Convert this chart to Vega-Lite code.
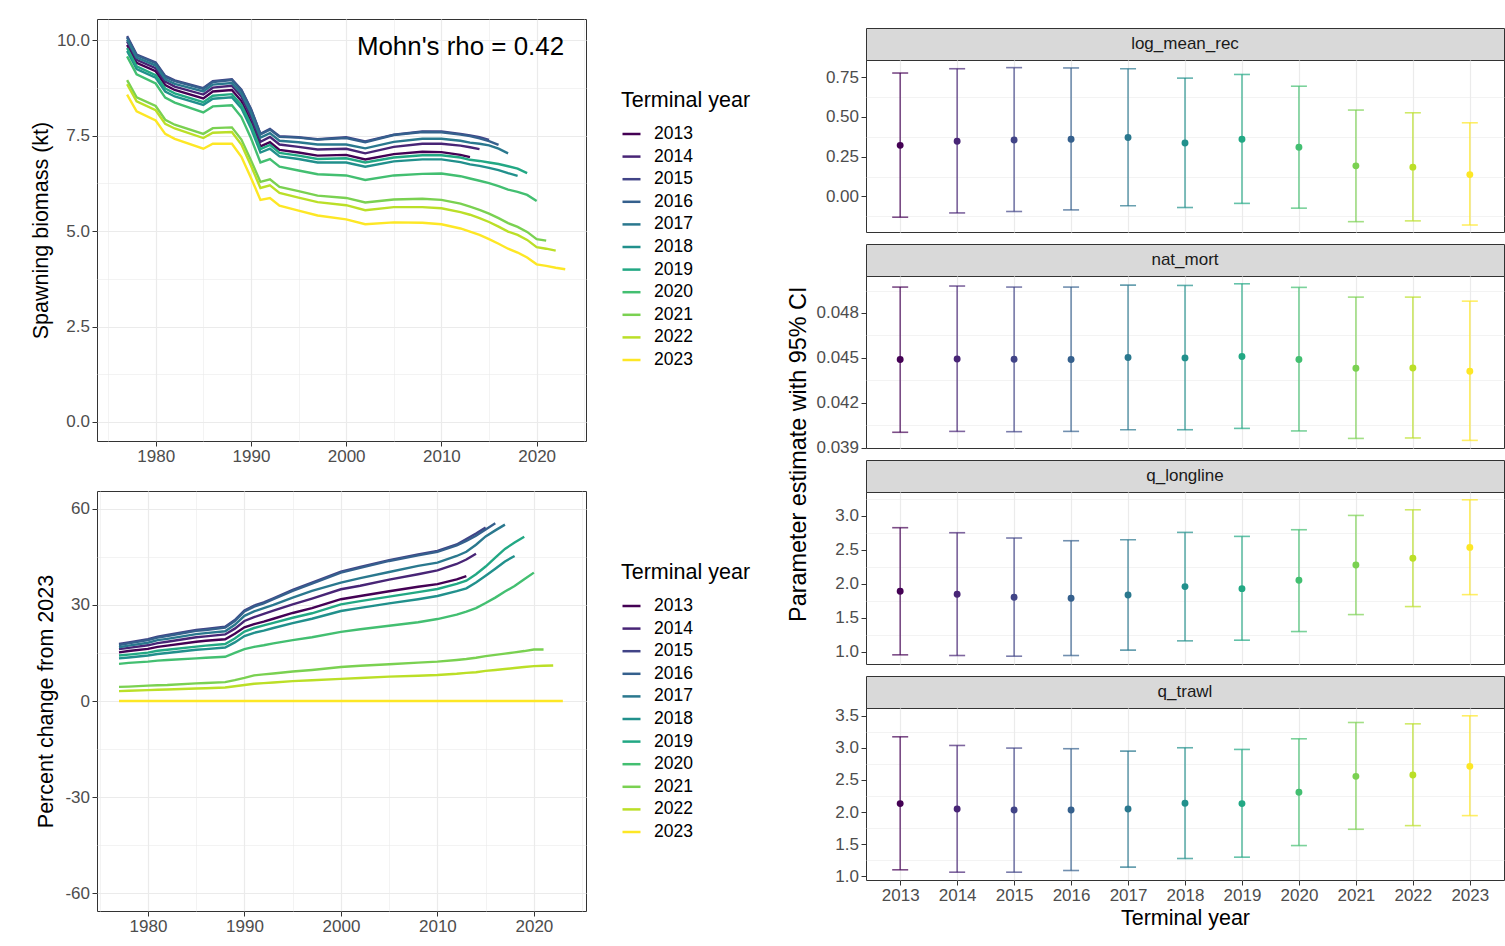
{
  "$schema": "https://vega.github.io/schema/vega-lite/v6.json",
  "background": "white",
  "padding": {"left": 29, "top": 18, "right": 0, "bottom": 0},
  "config": {
    "font": "Liberation Sans",
    "view": {"stroke": "#333333", "strokeWidth": 1},
    "axis": {"domain": false, "tickColor": "#333333", "tickSize": 5, "tickWidth": 1, "labelColor": "#4D4D4D", "labelFontSize": 17, "labelFont": "Liberation Sans", "titleFont": "Liberation Sans", "titleFontSize": 21.5, "titleFontWeight": "normal", "titleColor": "#000000", "gridColor": "#EBEBEB", "labelPadding": 2.5, "labelFlush": false, "labelOverlap": false},
    "legend": {"labelFont": "Liberation Sans", "titleFont": "Liberation Sans"},
    "title": {"font": "Liberation Sans", "fontWeight": "normal", "color": "#000000"}
  },
  "datasets": {
    "sb": [
      {"ty":2013,"yr":1977,"sb":9.88,"pct":15.2},{"ty":2013,"yr":1978,"sb":9.41,"pct":15.6},{"ty":2013,"yr":1980,"sb":9.19,"pct":16.3},{"ty":2013,"yr":1981,"sb":8.83,"pct":16.9},{"ty":2013,"yr":1982,"sb":8.70,"pct":17.3},{"ty":2013,"yr":1985,"sb":8.48,"pct":18.5},{"ty":2013,"yr":1986,"sb":8.66,"pct":18.8},{"ty":2013,"yr":1988,"sb":8.70,"pct":19.3},{"ty":2013,"yr":1989,"sb":8.41,"pct":21.0},{"ty":2013,"yr":1990,"sb":7.87,"pct":23.0},{"ty":2013,"yr":1991,"sb":7.22,"pct":24.0},{"ty":2013,"yr":1992,"sb":7.33,"pct":24.8},{"ty":2013,"yr":1993,"sb":7.13,"pct":25.7},{"ty":2013,"yr":1995,"sb":7.06,"pct":27.5},{"ty":2013,"yr":1997,"sb":6.98,"pct":29.0},{"ty":2013,"yr":2000,"sb":7.00,"pct":31.8},{"ty":2013,"yr":2002,"sb":6.88,"pct":32.8},{"ty":2013,"yr":2005,"sb":7.02,"pct":34.3},{"ty":2013,"yr":2008,"sb":7.08,"pct":35.7},{"ty":2013,"yr":2010,"sb":7.07,"pct":36.5},{"ty":2013,"yr":2012,"sb":7.00,"pct":38.0},{"ty":2013,"yr":2013,"sb":6.94,"pct":39.0},
      {"ty":2014,"yr":1977,"sb":9.97,"pct":16.2},{"ty":2014,"yr":1978,"sb":9.49,"pct":16.6},{"ty":2014,"yr":1980,"sb":9.27,"pct":17.4},{"ty":2014,"yr":1981,"sb":8.92,"pct":18.1},{"ty":2014,"yr":1982,"sb":8.79,"pct":18.5},{"ty":2014,"yr":1985,"sb":8.58,"pct":19.9},{"ty":2014,"yr":1986,"sb":8.76,"pct":20.2},{"ty":2014,"yr":1988,"sb":8.81,"pct":20.8},{"ty":2014,"yr":1989,"sb":8.52,"pct":22.6},{"ty":2014,"yr":1990,"sb":8.00,"pct":25.0},{"ty":2014,"yr":1991,"sb":7.34,"pct":26.2},{"ty":2014,"yr":1992,"sb":7.47,"pct":27.2},{"ty":2014,"yr":1993,"sb":7.27,"pct":28.2},{"ty":2014,"yr":1995,"sb":7.21,"pct":30.2},{"ty":2014,"yr":1997,"sb":7.14,"pct":32.0},{"ty":2014,"yr":2000,"sb":7.16,"pct":34.9},{"ty":2014,"yr":2002,"sb":7.04,"pct":36.0},{"ty":2014,"yr":2005,"sb":7.21,"pct":37.9},{"ty":2014,"yr":2008,"sb":7.29,"pct":39.6},{"ty":2014,"yr":2010,"sb":7.29,"pct":40.8},{"ty":2014,"yr":2012,"sb":7.24,"pct":42.8},{"ty":2014,"yr":2013,"sb":7.20,"pct":44.2},{"ty":2014,"yr":2014,"sb":7.15,"pct":46.0},
      {"ty":2015,"yr":1977,"sb":10.11,"pct":17.8},{"ty":2015,"yr":1978,"sb":9.63,"pct":18.3},{"ty":2015,"yr":1980,"sb":9.42,"pct":19.3},{"ty":2015,"yr":1981,"sb":9.07,"pct":20.1},{"ty":2015,"yr":1982,"sb":8.95,"pct":20.6},{"ty":2015,"yr":1985,"sb":8.75,"pct":22.2},{"ty":2015,"yr":1986,"sb":8.93,"pct":22.5},{"ty":2015,"yr":1988,"sb":8.98,"pct":23.2},{"ty":2015,"yr":1989,"sb":8.71,"pct":25.3},{"ty":2015,"yr":1990,"sb":8.21,"pct":28.3},{"ty":2015,"yr":1991,"sb":7.55,"pct":29.8},{"ty":2015,"yr":1992,"sb":7.68,"pct":30.8},{"ty":2015,"yr":1993,"sb":7.49,"pct":32.1},{"ty":2015,"yr":1995,"sb":7.46,"pct":34.7},{"ty":2015,"yr":1997,"sb":7.41,"pct":37.0},{"ty":2015,"yr":2000,"sb":7.46,"pct":40.4},{"ty":2015,"yr":2002,"sb":7.35,"pct":41.9},{"ty":2015,"yr":2005,"sb":7.53,"pct":44.0},{"ty":2015,"yr":2008,"sb":7.61,"pct":45.8},{"ty":2015,"yr":2010,"sb":7.61,"pct":46.9},{"ty":2015,"yr":2012,"sb":7.55,"pct":48.9},{"ty":2015,"yr":2013,"sb":7.51,"pct":50.6},{"ty":2015,"yr":2014,"sb":7.46,"pct":52.3},{"ty":2015,"yr":2015,"sb":7.39,"pct":54.2},
      {"ty":2016,"yr":1977,"sb":10.08,"pct":17.5},{"ty":2016,"yr":1978,"sb":9.61,"pct":18.0},{"ty":2016,"yr":1980,"sb":9.40,"pct":19.0},{"ty":2016,"yr":1981,"sb":9.04,"pct":19.8},{"ty":2016,"yr":1982,"sb":8.93,"pct":20.3},{"ty":2016,"yr":1985,"sb":8.73,"pct":21.9},{"ty":2016,"yr":1986,"sb":8.91,"pct":22.2},{"ty":2016,"yr":1988,"sb":8.96,"pct":22.9},{"ty":2016,"yr":1989,"sb":8.69,"pct":25.0},{"ty":2016,"yr":1990,"sb":8.19,"pct":28.0},{"ty":2016,"yr":1991,"sb":7.54,"pct":29.5},{"ty":2016,"yr":1992,"sb":7.66,"pct":30.5},{"ty":2016,"yr":1993,"sb":7.47,"pct":31.8},{"ty":2016,"yr":1995,"sb":7.45,"pct":34.4},{"ty":2016,"yr":1997,"sb":7.40,"pct":36.7},{"ty":2016,"yr":2000,"sb":7.44,"pct":40.1},{"ty":2016,"yr":2002,"sb":7.33,"pct":41.6},{"ty":2016,"yr":2005,"sb":7.52,"pct":43.75},{"ty":2016,"yr":2008,"sb":7.60,"pct":45.5},{"ty":2016,"yr":2010,"sb":7.59,"pct":46.6},{"ty":2016,"yr":2012,"sb":7.53,"pct":48.6},{"ty":2016,"yr":2013,"sb":7.49,"pct":50.0},{"ty":2016,"yr":2014,"sb":7.43,"pct":51.6},{"ty":2016,"yr":2015,"sb":7.36,"pct":53.6},{"ty":2016,"yr":2016,"sb":7.26,"pct":55.5},
      {"ty":2017,"yr":1977,"sb":10.02,"pct":16.8},{"ty":2017,"yr":1978,"sb":9.55,"pct":17.3},{"ty":2017,"yr":1980,"sb":9.34,"pct":18.2},{"ty":2017,"yr":1981,"sb":8.98,"pct":19.0},{"ty":2017,"yr":1982,"sb":8.86,"pct":19.4},{"ty":2017,"yr":1985,"sb":8.66,"pct":20.9},{"ty":2017,"yr":1986,"sb":8.84,"pct":21.2},{"ty":2017,"yr":1988,"sb":8.88,"pct":21.8},{"ty":2017,"yr":1989,"sb":8.60,"pct":23.8},{"ty":2017,"yr":1990,"sb":8.10,"pct":26.6},{"ty":2017,"yr":1991,"sb":7.45,"pct":28.0},{"ty":2017,"yr":1992,"sb":7.57,"pct":29.0},{"ty":2017,"yr":1993,"sb":7.37,"pct":30.0},{"ty":2017,"yr":1995,"sb":7.33,"pct":32.3},{"ty":2017,"yr":1997,"sb":7.27,"pct":34.4},{"ty":2017,"yr":2000,"sb":7.27,"pct":37.0},{"ty":2017,"yr":2002,"sb":7.17,"pct":38.4},{"ty":2017,"yr":2005,"sb":7.34,"pct":40.3},{"ty":2017,"yr":2008,"sb":7.42,"pct":42.2},{"ty":2017,"yr":2010,"sb":7.42,"pct":43.2},{"ty":2017,"yr":2012,"sb":7.37,"pct":45.3},{"ty":2017,"yr":2013,"sb":7.32,"pct":46.6},{"ty":2017,"yr":2014,"sb":7.29,"pct":48.8},{"ty":2017,"yr":2015,"sb":7.25,"pct":51.4},{"ty":2017,"yr":2016,"sb":7.16,"pct":53.3},{"ty":2017,"yr":2017,"sb":7.04,"pct":55.1},
      {"ty":2018,"yr":1977,"sb":9.72,"pct":13.3},{"ty":2018,"yr":1978,"sb":9.25,"pct":13.6},{"ty":2018,"yr":1980,"sb":9.02,"pct":14.2},{"ty":2018,"yr":1981,"sb":8.66,"pct":14.7},{"ty":2018,"yr":1982,"sb":8.53,"pct":15.0},{"ty":2018,"yr":1985,"sb":8.31,"pct":16.0},{"ty":2018,"yr":1986,"sb":8.47,"pct":16.2},{"ty":2018,"yr":1988,"sb":8.51,"pct":16.7},{"ty":2018,"yr":1989,"sb":8.22,"pct":18.3},{"ty":2018,"yr":1990,"sb":7.70,"pct":20.3},{"ty":2018,"yr":1991,"sb":7.06,"pct":21.3},{"ty":2018,"yr":1992,"sb":7.16,"pct":22.0},{"ty":2018,"yr":1993,"sb":6.96,"pct":22.8},{"ty":2018,"yr":1995,"sb":6.89,"pct":24.3},{"ty":2018,"yr":1997,"sb":6.80,"pct":25.7},{"ty":2018,"yr":2000,"sb":6.80,"pct":28.1},{"ty":2018,"yr":2002,"sb":6.69,"pct":29.1},{"ty":2018,"yr":2005,"sb":6.83,"pct":30.5},{"ty":2018,"yr":2008,"sb":6.88,"pct":31.8},{"ty":2018,"yr":2010,"sb":6.88,"pct":32.8},{"ty":2018,"yr":2012,"sb":6.81,"pct":34.3},{"ty":2018,"yr":2013,"sb":6.75,"pct":35.2},{"ty":2018,"yr":2014,"sb":6.71,"pct":37.0},{"ty":2018,"yr":2015,"sb":6.66,"pct":39.1},{"ty":2018,"yr":2016,"sb":6.60,"pct":41.3},{"ty":2018,"yr":2017,"sb":6.52,"pct":43.6},{"ty":2018,"yr":2018,"sb":6.45,"pct":45.3},
      {"ty":2019,"yr":1977,"sb":9.80,"pct":14.2},{"ty":2019,"yr":1978,"sb":9.32,"pct":14.5},{"ty":2019,"yr":1980,"sb":9.09,"pct":15.1},{"ty":2019,"yr":1981,"sb":8.74,"pct":15.7},{"ty":2019,"yr":1982,"sb":8.61,"pct":16.0},{"ty":2019,"yr":1985,"sb":8.38,"pct":17.0},{"ty":2019,"yr":1986,"sb":8.55,"pct":17.3},{"ty":2019,"yr":1988,"sb":8.59,"pct":17.8},{"ty":2019,"yr":1989,"sb":8.31,"pct":19.5},{"ty":2019,"yr":1990,"sb":7.79,"pct":21.7},{"ty":2019,"yr":1991,"sb":7.15,"pct":22.8},{"ty":2019,"yr":1992,"sb":7.26,"pct":23.6},{"ty":2019,"yr":1993,"sb":7.05,"pct":24.4},{"ty":2019,"yr":1995,"sb":6.98,"pct":26.0},{"ty":2019,"yr":1997,"sb":6.89,"pct":27.4},{"ty":2019,"yr":2000,"sb":6.91,"pct":30.2},{"ty":2019,"yr":2002,"sb":6.80,"pct":31.2},{"ty":2019,"yr":2005,"sb":6.93,"pct":32.6},{"ty":2019,"yr":2008,"sb":6.99,"pct":34.0},{"ty":2019,"yr":2010,"sb":6.99,"pct":35.0},{"ty":2019,"yr":2012,"sb":6.93,"pct":36.6},{"ty":2019,"yr":2013,"sb":6.87,"pct":37.6},{"ty":2019,"yr":2014,"sb":6.84,"pct":39.6},{"ty":2019,"yr":2015,"sb":6.80,"pct":42.0},{"ty":2019,"yr":2016,"sb":6.76,"pct":44.8},{"ty":2019,"yr":2017,"sb":6.70,"pct":47.5},{"ty":2019,"yr":2018,"sb":6.64,"pct":49.5},{"ty":2019,"yr":2019,"sb":6.52,"pct":51.3},
      {"ty":2020,"yr":1977,"sb":9.58,"pct":11.6},{"ty":2020,"yr":1978,"sb":9.11,"pct":11.9},{"ty":2020,"yr":1980,"sb":8.87,"pct":12.3},{"ty":2020,"yr":1981,"sb":8.50,"pct":12.6},{"ty":2020,"yr":1982,"sb":8.37,"pct":12.8},{"ty":2020,"yr":1985,"sb":8.11,"pct":13.3},{"ty":2020,"yr":1986,"sb":8.27,"pct":13.5},{"ty":2020,"yr":1988,"sb":8.30,"pct":13.8},{"ty":2020,"yr":1989,"sb":7.99,"pct":15.0},{"ty":2020,"yr":1990,"sb":7.44,"pct":16.2},{"ty":2020,"yr":1991,"sb":6.80,"pct":16.9},{"ty":2020,"yr":1992,"sb":6.89,"pct":17.4},{"ty":2020,"yr":1993,"sb":6.69,"pct":18.0},{"ty":2020,"yr":1995,"sb":6.59,"pct":19.0},{"ty":2020,"yr":1997,"sb":6.49,"pct":19.9},{"ty":2020,"yr":2000,"sb":6.46,"pct":21.6},{"ty":2020,"yr":2002,"sb":6.34,"pct":22.4},{"ty":2020,"yr":2005,"sb":6.46,"pct":23.5},{"ty":2020,"yr":2008,"sb":6.50,"pct":24.6},{"ty":2020,"yr":2010,"sb":6.51,"pct":25.6},{"ty":2020,"yr":2012,"sb":6.44,"pct":27.0},{"ty":2020,"yr":2013,"sb":6.38,"pct":27.9},{"ty":2020,"yr":2014,"sb":6.32,"pct":29.0},{"ty":2020,"yr":2015,"sb":6.26,"pct":30.6},{"ty":2020,"yr":2016,"sb":6.18,"pct":32.3},{"ty":2020,"yr":2017,"sb":6.09,"pct":34.2},{"ty":2020,"yr":2018,"sb":6.03,"pct":35.9},{"ty":2020,"yr":2019,"sb":5.95,"pct":38.0},{"ty":2020,"yr":2020,"sb":5.79,"pct":40.1},
      {"ty":2021,"yr":1977,"sb":8.96,"pct":4.4},{"ty":2021,"yr":1978,"sb":8.51,"pct":4.5},{"ty":2021,"yr":1980,"sb":8.28,"pct":4.8},{"ty":2021,"yr":1981,"sb":7.92,"pct":4.9},{"ty":2021,"yr":1982,"sb":7.79,"pct":5.0},{"ty":2021,"yr":1985,"sb":7.55,"pct":5.5},{"ty":2021,"yr":1986,"sb":7.70,"pct":5.6},{"ty":2021,"yr":1988,"sb":7.72,"pct":5.9},{"ty":2021,"yr":1989,"sb":7.40,"pct":6.5},{"ty":2021,"yr":1990,"sb":6.86,"pct":7.2},{"ty":2021,"yr":1991,"sb":6.29,"pct":8.0},{"ty":2021,"yr":1992,"sb":6.36,"pct":8.3},{"ty":2021,"yr":1993,"sb":6.16,"pct":8.6},{"ty":2021,"yr":1995,"sb":6.05,"pct":9.2},{"ty":2021,"yr":1997,"sb":5.93,"pct":9.7},{"ty":2021,"yr":2000,"sb":5.87,"pct":10.6},{"ty":2021,"yr":2002,"sb":5.75,"pct":11.0},{"ty":2021,"yr":2005,"sb":5.83,"pct":11.5},{"ty":2021,"yr":2008,"sb":5.85,"pct":12.0},{"ty":2021,"yr":2010,"sb":5.82,"pct":12.3},{"ty":2021,"yr":2012,"sb":5.72,"pct":12.8},{"ty":2021,"yr":2013,"sb":5.64,"pct":13.1},{"ty":2021,"yr":2014,"sb":5.56,"pct":13.5},{"ty":2021,"yr":2015,"sb":5.46,"pct":14.0},{"ty":2021,"yr":2016,"sb":5.34,"pct":14.4},{"ty":2021,"yr":2017,"sb":5.21,"pct":14.8},{"ty":2021,"yr":2018,"sb":5.11,"pct":15.2},{"ty":2021,"yr":2019,"sb":4.98,"pct":15.6},{"ty":2021,"yr":2020,"sb":4.79,"pct":16.1},{"ty":2021,"yr":2021,"sb":4.75,"pct":16.1},
      {"ty":2022,"yr":1977,"sb":8.85,"pct":3.1},{"ty":2022,"yr":1978,"sb":8.40,"pct":3.2},{"ty":2022,"yr":1980,"sb":8.17,"pct":3.4},{"ty":2022,"yr":1981,"sb":7.81,"pct":3.5},{"ty":2022,"yr":1982,"sb":7.69,"pct":3.6},{"ty":2022,"yr":1985,"sb":7.44,"pct":3.9},{"ty":2022,"yr":1986,"sb":7.58,"pct":4.0},{"ty":2022,"yr":1988,"sb":7.60,"pct":4.2},{"ty":2022,"yr":1989,"sb":7.27,"pct":4.6},{"ty":2022,"yr":1990,"sb":6.72,"pct":5.0},{"ty":2022,"yr":1991,"sb":6.13,"pct":5.4},{"ty":2022,"yr":1992,"sb":6.20,"pct":5.6},{"ty":2022,"yr":1993,"sb":6.00,"pct":5.8},{"ty":2022,"yr":1995,"sb":5.88,"pct":6.2},{"ty":2022,"yr":1997,"sb":5.76,"pct":6.5},{"ty":2022,"yr":2000,"sb":5.68,"pct":6.9},{"ty":2022,"yr":2002,"sb":5.55,"pct":7.2},{"ty":2022,"yr":2005,"sb":5.63,"pct":7.6},{"ty":2022,"yr":2008,"sb":5.63,"pct":7.9},{"ty":2022,"yr":2010,"sb":5.60,"pct":8.1},{"ty":2022,"yr":2012,"sb":5.50,"pct":8.5},{"ty":2022,"yr":2013,"sb":5.43,"pct":8.8},{"ty":2022,"yr":2014,"sb":5.34,"pct":9.0},{"ty":2022,"yr":2015,"sb":5.24,"pct":9.4},{"ty":2022,"yr":2016,"sb":5.12,"pct":9.7},{"ty":2022,"yr":2017,"sb":4.99,"pct":10.0},{"ty":2022,"yr":2018,"sb":4.90,"pct":10.3},{"ty":2022,"yr":2019,"sb":4.77,"pct":10.6},{"ty":2022,"yr":2020,"sb":4.58,"pct":10.9},{"ty":2022,"yr":2021,"sb":4.54,"pct":11.0},{"ty":2022,"yr":2022,"sb":4.49,"pct":11.1},
      {"ty":2023,"yr":1977,"sb":8.58,"pct":0},{"ty":2023,"yr":1978,"sb":8.14,"pct":0},{"ty":2023,"yr":1980,"sb":7.90,"pct":0},{"ty":2023,"yr":1981,"sb":7.55,"pct":0},{"ty":2023,"yr":1982,"sb":7.42,"pct":0},{"ty":2023,"yr":1985,"sb":7.16,"pct":0},{"ty":2023,"yr":1986,"sb":7.29,"pct":0},{"ty":2023,"yr":1988,"sb":7.29,"pct":0},{"ty":2023,"yr":1989,"sb":6.95,"pct":0},{"ty":2023,"yr":1990,"sb":6.40,"pct":0},{"ty":2023,"yr":1991,"sb":5.82,"pct":0},{"ty":2023,"yr":1992,"sb":5.87,"pct":0},{"ty":2023,"yr":1993,"sb":5.67,"pct":0},{"ty":2023,"yr":1995,"sb":5.54,"pct":0},{"ty":2023,"yr":1997,"sb":5.41,"pct":0},{"ty":2023,"yr":2000,"sb":5.31,"pct":0},{"ty":2023,"yr":2002,"sb":5.18,"pct":0},{"ty":2023,"yr":2005,"sb":5.23,"pct":0},{"ty":2023,"yr":2008,"sb":5.22,"pct":0},{"ty":2023,"yr":2010,"sb":5.18,"pct":0},{"ty":2023,"yr":2012,"sb":5.07,"pct":0},{"ty":2023,"yr":2013,"sb":4.99,"pct":0},{"ty":2023,"yr":2014,"sb":4.90,"pct":0},{"ty":2023,"yr":2015,"sb":4.79,"pct":0},{"ty":2023,"yr":2016,"sb":4.67,"pct":0},{"ty":2023,"yr":2017,"sb":4.54,"pct":0},{"ty":2023,"yr":2018,"sb":4.44,"pct":0},{"ty":2023,"yr":2019,"sb":4.31,"pct":0},{"ty":2023,"yr":2020,"sb":4.13,"pct":0},{"ty":2023,"yr":2021,"sb":4.09,"pct":0},{"ty":2023,"yr":2022,"sb":4.04,"pct":0},{"ty":2023,"yr":2023,"sb":4.00,"pct":0}
    ],
    "par": [
      {"param":"log_mean_rec","ty":2013,"est":0.321,"lo":-0.131,"hi":0.776},
      {"param":"log_mean_rec","ty":2014,"est":0.347,"lo":-0.104,"hi":0.803},
      {"param":"log_mean_rec","ty":2015,"est":0.355,"lo":-0.095,"hi":0.810},
      {"param":"log_mean_rec","ty":2016,"est":0.359,"lo":-0.085,"hi":0.808},
      {"param":"log_mean_rec","ty":2017,"est":0.370,"lo":-0.059,"hi":0.803},
      {"param":"log_mean_rec","ty":2018,"est":0.336,"lo":-0.070,"hi":0.744},
      {"param":"log_mean_rec","ty":2019,"est":0.359,"lo":-0.044,"hi":0.767},
      {"param":"log_mean_rec","ty":2020,"est":0.309,"lo":-0.074,"hi":0.693},
      {"param":"log_mean_rec","ty":2021,"est":0.192,"lo":-0.159,"hi":0.543},
      {"param":"log_mean_rec","ty":2022,"est":0.184,"lo":-0.154,"hi":0.526},
      {"param":"log_mean_rec","ty":2023,"est":0.137,"lo":-0.180,"hi":0.463},
      {"param":"nat_mort","ty":2013,"est":0.04489,"lo":0.04003,"hi":0.04973},
      {"param":"nat_mort","ty":2014,"est":0.04493,"lo":0.04009,"hi":0.04980},
      {"param":"nat_mort","ty":2015,"est":0.04491,"lo":0.04007,"hi":0.04973},
      {"param":"nat_mort","ty":2016,"est":0.04489,"lo":0.04009,"hi":0.04973},
      {"param":"nat_mort","ty":2017,"est":0.04502,"lo":0.04020,"hi":0.04986},
      {"param":"nat_mort","ty":2018,"est":0.04500,"lo":0.04020,"hi":0.04984},
      {"param":"nat_mort","ty":2019,"est":0.04509,"lo":0.04029,"hi":0.04995},
      {"param":"nat_mort","ty":2020,"est":0.04489,"lo":0.04012,"hi":0.04971},
      {"param":"nat_mort","ty":2021,"est":0.04431,"lo":0.03962,"hi":0.04906},
      {"param":"nat_mort","ty":2022,"est":0.04433,"lo":0.03965,"hi":0.04906},
      {"param":"nat_mort","ty":2023,"est":0.04411,"lo":0.03949,"hi":0.04879},
      {"param":"q_longline","ty":2013,"est":1.887,"lo":0.951,"hi":2.824},
      {"param":"q_longline","ty":2014,"est":1.843,"lo":0.941,"hi":2.750},
      {"param":"q_longline","ty":2015,"est":1.799,"lo":0.931,"hi":2.672},
      {"param":"q_longline","ty":2016,"est":1.784,"lo":0.941,"hi":2.632},
      {"param":"q_longline","ty":2017,"est":1.833,"lo":1.020,"hi":2.647},
      {"param":"q_longline","ty":2018,"est":1.956,"lo":1.157,"hi":2.755},
      {"param":"q_longline","ty":2019,"est":1.926,"lo":1.167,"hi":2.696},
      {"param":"q_longline","ty":2020,"est":2.049,"lo":1.294,"hi":2.794},
      {"param":"q_longline","ty":2021,"est":2.275,"lo":1.544,"hi":3.005},
      {"param":"q_longline","ty":2022,"est":2.373,"lo":1.662,"hi":3.088},
      {"param":"q_longline","ty":2023,"est":2.534,"lo":1.838,"hi":3.235},
      {"param":"q_trawl","ty":2013,"est":2.131,"lo":1.099,"hi":3.173},
      {"param":"q_trawl","ty":2014,"est":2.048,"lo":1.062,"hi":3.038},
      {"param":"q_trawl","ty":2015,"est":2.032,"lo":1.062,"hi":2.997},
      {"param":"q_trawl","ty":2016,"est":2.032,"lo":1.088,"hi":2.987},
      {"param":"q_trawl","ty":2017,"est":2.048,"lo":1.140,"hi":2.950},
      {"param":"q_trawl","ty":2018,"est":2.136,"lo":1.275,"hi":3.002},
      {"param":"q_trawl","ty":2019,"est":2.131,"lo":1.296,"hi":2.976},
      {"param":"q_trawl","ty":2020,"est":2.307,"lo":1.477,"hi":3.142},
      {"param":"q_trawl","ty":2021,"est":2.556,"lo":1.731,"hi":3.396},
      {"param":"q_trawl","ty":2022,"est":2.577,"lo":1.788,"hi":3.375},
      {"param":"q_trawl","ty":2023,"est":2.712,"lo":1.944,"hi":3.500}
    ]
  },
  "resolve": {"scale": {"color": "independent"}, "legend": {"color": "independent"}},
  "spacing": 35,
  "hconcat": [
    {
      "vconcat": [
        {
          "width": 489, "height": 422,
          "layer": [
            {
              "data": {"name": "sb"},
              "mark": {"type": "line", "strokeWidth": 2.4},
              "encoding": {
                "x": {"field": "yr", "type": "quantitative", "scale": {"domain": [1973.84, 2025.18], "nice": false, "zero": false},
                      "axis": {"title": null, "format": "d", "labelOverlap": false, "values": [1975,1980,1985,1990,1995,2000,2005,2010,2015,2020,2025],
                               "labelExpr": "datum.value % 10 === 0 ? datum.label : ''",
                               "gridWidth": {"condition": {"test": "datum.value % 10 !== 0", "value": 0.6}, "value": 1.2},
                               "tickOpacity": {"condition": {"test": "datum.value % 10 !== 0", "value": 0}, "value": 1}}},
                "y": {"field": "sb", "type": "quantitative", "scale": {"domain": [-0.5, 10.56], "nice": false, "zero": false},
                      "axis": {"title": "Spawning biomass (kt)", "titlePadding": 4, "format": ".1f", "labelOverlap": false, "values": [0,1.25,2.5,3.75,5,6.25,7.5,8.75,10],
                               "labelExpr": "datum.value % 2.5 === 0 ? datum.label : ''",
                               "gridWidth": {"condition": {"test": "datum.value % 2.5 !== 0", "value": 0.6}, "value": 1.2},
                               "tickOpacity": {"condition": {"test": "datum.value % 2.5 !== 0", "value": 0}, "value": 1}}},
                "color": {"field": "ty", "type": "nominal",
                          "scale": {"domain": [2013,2014,2015,2016,2017,2018,2019,2020,2021,2022,2023], "range": ["#440154","#482576","#414487","#35608D","#2A788E","#21908C","#22A884","#43BF71","#7AD151","#BBDF27","#FDE725"]},
                          "legend": {"title": "Terminal year", "orient": "none", "legendX": 524, "legendY": 71, "symbolType": "stroke", "symbolSize": 324, "symbolStrokeWidth": 2.5, "labelFontSize": 17.5, "titleFontSize": 21.5, "titleFontWeight": "normal", "labelColor": "#000000", "titleColor": "#000000", "rowPadding": 3.6, "titlePadding": 12, "labelOffset": 12, "padding": 0}}
              }
            },
            {
              "data": {"values": [{"x": 2012.0, "y": 9.83, "t": "Mohn's rho = 0.42"}]},
              "mark": {"type": "text", "fontSize": 25.9, "color": "#000000", "baseline": "middle", "align": "center"},
              "encoding": {
                "x": {"field": "x", "type": "quantitative"},
                "y": {"field": "y", "type": "quantitative"},
                "text": {"field": "t"}
              }
            }
          ]
        },
        {
          "width": 489, "height": 420,
          "data": {"name": "sb"},
          "mark": {"type": "line", "strokeWidth": 2.4},
          "encoding": {
            "x": {"field": "yr", "type": "quantitative", "scale": {"domain": [1974.72, 2025.4], "nice": false, "zero": false},
                  "axis": {"title": null, "format": "d", "labelOverlap": false, "values": [1975,1980,1985,1990,1995,2000,2005,2010,2015,2020,2025],
                           "labelExpr": "datum.value % 10 === 0 ? datum.label : ''",
                           "gridWidth": {"condition": {"test": "datum.value % 10 !== 0", "value": 0.6}, "value": 1.2},
                           "tickOpacity": {"condition": {"test": "datum.value % 10 !== 0", "value": 0}, "value": 1}}},
            "y": {"field": "pct", "type": "quantitative", "scale": {"domain": [-65.6, 65.6], "nice": false, "zero": false},
                  "axis": {"title": "Percent change from 2023", "titlePadding": 7, "labelOverlap": false, "values": [-60,-45,-30,-15,0,15,30,45,60],
                           "labelExpr": "datum.value % 30 === 0 ? replace(datum.label, '\u2212', '-') : ''",
                           "gridWidth": {"condition": {"test": "datum.value % 30 !== 0", "value": 0.6}, "value": 1.2},
                           "tickOpacity": {"condition": {"test": "datum.value % 30 !== 0", "value": 0}, "value": 1}}},
            "color": {"field": "ty", "type": "nominal",
                      "scale": {"domain": [2013,2014,2015,2016,2017,2018,2019,2020,2021,2022,2023], "range": ["#440154","#482576","#414487","#35608D","#2A788E","#21908C","#22A884","#43BF71","#7AD151","#BBDF27","#FDE725"]},
                      "legend": {"title": "Terminal year", "orient": "none", "legendX": 524, "legendY": 71, "symbolType": "stroke", "symbolSize": 324, "symbolStrokeWidth": 2.5, "labelFontSize": 17.5, "titleFontSize": 21.5, "titleFontWeight": "normal", "labelColor": "#000000", "titleColor": "#000000", "rowPadding": 3.6, "titlePadding": 12, "labelOffset": 12, "padding": 0}}
          }
        }
      ],
      "spacing": 50,
      "bounds": "flush",
      "resolve": {"scale": {"color": "independent"}, "legend": {"color": "independent"}}
    },
    {
      "title": {"text": "Parameter estimate with 95% CI", "orient": "left", "anchor": "middle", "dx": 20, "fontSize": 23.4, "offset": 4},
      "spacing": 0,
      "bounds": "flush",
      "vconcat": [
        {"width": 638, "height": 9, "view": {"stroke": null}, "data": {"values": []}, "mark": "point", "encoding": {}},
        {"width": 638, "height": 32, "view": {"fill": "#D9D9D9", "stroke": "#333333"},
         "data": {"values": [{"s": "log_mean_rec"}]},
         "mark": {"type": "text", "fontSize": 17, "color": "#1A1A1A", "baseline": "middle", "align": "center"},
         "encoding": {"text": {"field": "s"}}},
        {"width": 638, "height": 172,
         "data": {"name": "par"},
         "transform": [{"filter": "datum.param === 'log_mean_rec'"}],
         "encoding": {
           "x": {"field": "ty", "type": "quantitative", "scale": {"domain": [2012.4, 2023.6], "nice": false, "zero": false},
                 "axis": {"title": null, "labels": false, "ticks": false, "values": [2013,2014,2015,2016,2017,2018,2019,2020,2021,2022,2023], "gridWidth": 1.2}},
           "color": {"field": "ty", "type": "nominal", "legend": null,
                     "scale": {"domain": [2013,2014,2015,2016,2017,2018,2019,2020,2021,2022,2023], "range": ["#440154","#482576","#414487","#35608D","#2A788E","#21908C","#22A884","#43BF71","#7AD151","#BBDF27","#FDE725"]}}
         },
         "resolve": {"axis": {"y": "independent"}},
         "layer": [
           {"mark": {"type": "circle", "opacity": 0},
            "encoding": {"y": {"field": "est", "type": "quantitative", "scale": {"domain": [-0.224, 0.858], "nice": false, "zero": false},
                               "axis": {"orient": "left", "title": null, "labels": false, "ticks": false, "domain": false, "grid": true, "gridWidth": 0.6, "values": [-0.125,0.125,0.375,0.625]}}}},
           {"mark": {"type": "rule", "strokeWidth": 1.6, "opacity": 0.7},
            "encoding": {"y": {"field": "lo", "type": "quantitative",
                               "axis": {"orient": "left", "title": null, "format": ".2f", "labelOverlap": false, "values": [0,0.25,0.5,0.75], "gridWidth": 1.2}},
                         "y2": {"field": "hi"}}},
           {"mark": {"type": "tick", "orient": "horizontal", "size": 16, "thickness": 1.6, "opacity": 0.7}, "encoding": {"y": {"field": "lo", "type": "quantitative", "axis": null}}},
           {"mark": {"type": "tick", "orient": "horizontal", "size": 16, "thickness": 1.6, "opacity": 0.7}, "encoding": {"y": {"field": "hi", "type": "quantitative", "axis": null}}},
           {"mark": {"type": "circle", "size": 48, "opacity": 1}, "encoding": {"y": {"field": "est", "type": "quantitative", "axis": null}}}
         ]},
        {"width": 638, "height": 12, "view": {"stroke": null}, "data": {"values": []}, "mark": "point", "encoding": {}},
        {"width": 638, "height": 32, "view": {"fill": "#D9D9D9", "stroke": "#333333"},
         "data": {"values": [{"s": "nat_mort"}]},
         "mark": {"type": "text", "fontSize": 17, "color": "#1A1A1A", "baseline": "middle", "align": "center"},
         "encoding": {"text": {"field": "s"}}},
        {"width": 638, "height": 172,
         "data": {"name": "par"},
         "transform": [{"filter": "datum.param === 'nat_mort'"}],
         "encoding": {
           "x": {"field": "ty", "type": "quantitative", "scale": {"domain": [2012.4, 2023.6], "nice": false, "zero": false},
                 "axis": {"title": null, "labels": false, "ticks": false, "values": [2013,2014,2015,2016,2017,2018,2019,2020,2021,2022,2023], "gridWidth": 1.2}},
           "color": {"field": "ty", "type": "nominal", "legend": null,
                     "scale": {"domain": [2013,2014,2015,2016,2017,2018,2019,2020,2021,2022,2023], "range": ["#440154","#482576","#414487","#35608D","#2A788E","#21908C","#22A884","#43BF71","#7AD151","#BBDF27","#FDE725"]}}
         },
         "resolve": {"axis": {"y": "independent"}},
         "layer": [
           {"mark": {"type": "circle", "opacity": 0},
            "encoding": {"y": {"field": "est", "type": "quantitative", "scale": {"domain": [0.03898, 0.05047], "nice": false, "zero": false},
                               "axis": {"orient": "left", "title": null, "labels": false, "ticks": false, "domain": false, "grid": true, "gridWidth": 0.6, "values": [0.0405,0.0435,0.0465,0.0495]}}}},
           {"mark": {"type": "rule", "strokeWidth": 1.6, "opacity": 0.7},
            "encoding": {"y": {"field": "lo", "type": "quantitative",
                               "axis": {"orient": "left", "title": null, "format": ".3f", "labelOverlap": false, "values": [0.039,0.042,0.045,0.048], "gridWidth": 1.2}},
                         "y2": {"field": "hi"}}},
           {"mark": {"type": "tick", "orient": "horizontal", "size": 16, "thickness": 1.6, "opacity": 0.7}, "encoding": {"y": {"field": "lo", "type": "quantitative", "axis": null}}},
           {"mark": {"type": "tick", "orient": "horizontal", "size": 16, "thickness": 1.6, "opacity": 0.7}, "encoding": {"y": {"field": "hi", "type": "quantitative", "axis": null}}},
           {"mark": {"type": "circle", "size": 48, "opacity": 1}, "encoding": {"y": {"field": "est", "type": "quantitative", "axis": null}}}
         ]},
        {"width": 638, "height": 12, "view": {"stroke": null}, "data": {"values": []}, "mark": "point", "encoding": {}},
        {"width": 638, "height": 32, "view": {"fill": "#D9D9D9", "stroke": "#333333"},
         "data": {"values": [{"s": "q_longline"}]},
         "mark": {"type": "text", "fontSize": 17, "color": "#1A1A1A", "baseline": "middle", "align": "center"},
         "encoding": {"text": {"field": "s"}}},
        {"width": 638, "height": 172,
         "data": {"name": "par"},
         "transform": [{"filter": "datum.param === 'q_longline'"}],
         "encoding": {
           "x": {"field": "ty", "type": "quantitative", "scale": {"domain": [2012.4, 2023.6], "nice": false, "zero": false},
                 "axis": {"title": null, "labels": false, "ticks": false, "values": [2013,2014,2015,2016,2017,2018,2019,2020,2021,2022,2023], "gridWidth": 1.2}},
           "color": {"field": "ty", "type": "nominal", "legend": null,
                     "scale": {"domain": [2013,2014,2015,2016,2017,2018,2019,2020,2021,2022,2023], "range": ["#440154","#482576","#414487","#35608D","#2A788E","#21908C","#22A884","#43BF71","#7AD151","#BBDF27","#FDE725"]}}
         },
         "resolve": {"axis": {"y": "independent"}},
         "layer": [
           {"mark": {"type": "circle", "opacity": 0},
            "encoding": {"y": {"field": "est", "type": "quantitative", "scale": {"domain": [0.816, 3.35], "nice": false, "zero": false},
                               "axis": {"orient": "left", "title": null, "labels": false, "ticks": false, "domain": false, "grid": true, "gridWidth": 0.6, "values": [1.25,1.75,2.25,2.75,3.25]}}}},
           {"mark": {"type": "rule", "strokeWidth": 1.6, "opacity": 0.7},
            "encoding": {"y": {"field": "lo", "type": "quantitative",
                               "axis": {"orient": "left", "title": null, "format": ".1f", "labelOverlap": false, "values": [1,1.5,2,2.5,3], "gridWidth": 1.2}},
                         "y2": {"field": "hi"}}},
           {"mark": {"type": "tick", "orient": "horizontal", "size": 16, "thickness": 1.6, "opacity": 0.7}, "encoding": {"y": {"field": "lo", "type": "quantitative", "axis": null}}},
           {"mark": {"type": "tick", "orient": "horizontal", "size": 16, "thickness": 1.6, "opacity": 0.7}, "encoding": {"y": {"field": "hi", "type": "quantitative", "axis": null}}},
           {"mark": {"type": "circle", "size": 48, "opacity": 1}, "encoding": {"y": {"field": "est", "type": "quantitative", "axis": null}}}
         ]},
        {"width": 638, "height": 12, "view": {"stroke": null}, "data": {"values": []}, "mark": "point", "encoding": {}},
        {"width": 638, "height": 32, "view": {"fill": "#D9D9D9", "stroke": "#333333"},
         "data": {"values": [{"s": "q_trawl"}]},
         "mark": {"type": "text", "fontSize": 17, "color": "#1A1A1A", "baseline": "middle", "align": "center"},
         "encoding": {"text": {"field": "s"}}},
        {"width": 638, "height": 172,
         "data": {"name": "par"},
         "transform": [{"filter": "datum.param === 'q_trawl'"}],
         "encoding": {
           "x": {"field": "ty", "type": "quantitative", "scale": {"domain": [2012.4, 2023.6], "nice": false, "zero": false},
                 "axis": {"title": "Terminal year", "titlePadding": 4, "format": "d", "labelOverlap": false, "values": [2013,2014,2015,2016,2017,2018,2019,2020,2021,2022,2023], "gridWidth": 1.2}},
           "color": {"field": "ty", "type": "nominal", "legend": null,
                     "scale": {"domain": [2013,2014,2015,2016,2017,2018,2019,2020,2021,2022,2023], "range": ["#440154","#482576","#414487","#35608D","#2A788E","#21908C","#22A884","#43BF71","#7AD151","#BBDF27","#FDE725"]}}
         },
         "resolve": {"axis": {"y": "independent"}},
         "layer": [
           {"mark": {"type": "circle", "opacity": 0},
            "encoding": {"y": {"field": "est", "type": "quantitative", "scale": {"domain": [0.94, 3.622], "nice": false, "zero": false},
                               "axis": {"orient": "left", "title": null, "labels": false, "ticks": false, "domain": false, "grid": true, "gridWidth": 0.6, "values": [1.25,1.75,2.25,2.75,3.25]}}}},
           {"mark": {"type": "rule", "strokeWidth": 1.6, "opacity": 0.7},
            "encoding": {"y": {"field": "lo", "type": "quantitative",
                               "axis": {"orient": "left", "title": null, "format": ".1f", "labelOverlap": false, "values": [1,1.5,2,2.5,3,3.5], "gridWidth": 1.2}},
                         "y2": {"field": "hi"}}},
           {"mark": {"type": "tick", "orient": "horizontal", "size": 16, "thickness": 1.6, "opacity": 0.7}, "encoding": {"y": {"field": "lo", "type": "quantitative", "axis": null}}},
           {"mark": {"type": "tick", "orient": "horizontal", "size": 16, "thickness": 1.6, "opacity": 0.7}, "encoding": {"y": {"field": "hi", "type": "quantitative", "axis": null}}},
           {"mark": {"type": "circle", "size": 48, "opacity": 1}, "encoding": {"y": {"field": "est", "type": "quantitative", "axis": null}}}
         ]}
      ]
    }
  ]
}
